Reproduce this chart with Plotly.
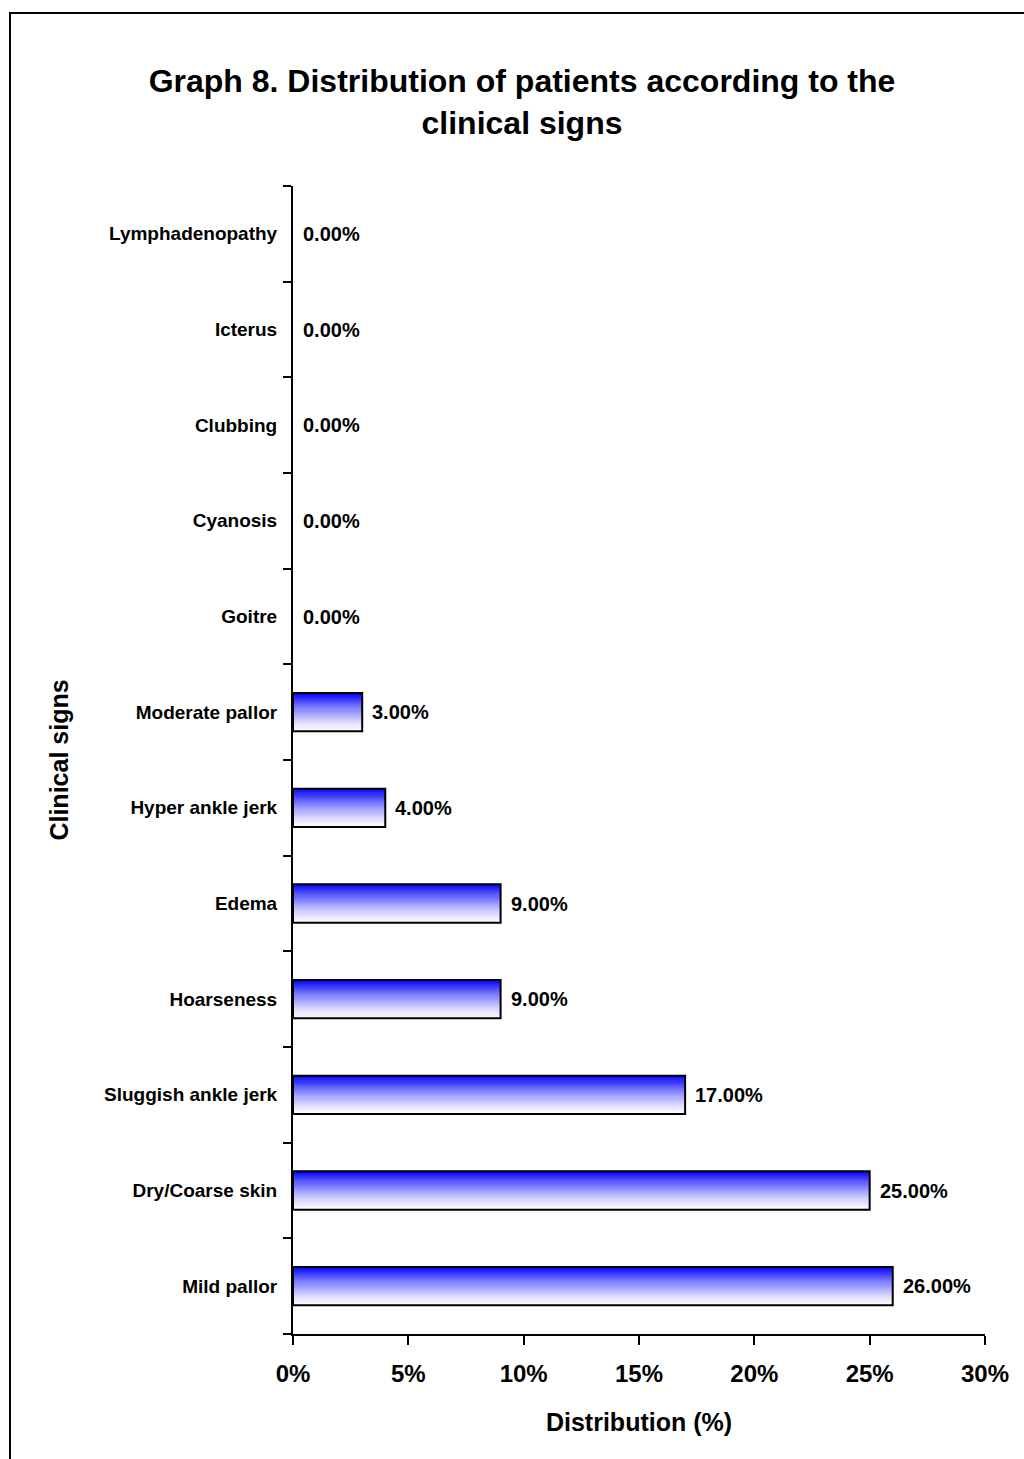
import plotly.graph_objects as go

categories = ["Mild pallor", "Dry/Coarse skin", "Sluggish ankle jerk", "Hoarseness",
              "Edema", "Hyper ankle jerk", "Moderate pallor", "Goitre", "Cyanosis",
              "Clubbing", "Icterus", "Lymphadenopathy"]
values = [26, 25, 17, 9, 9, 4, 3, 0, 0, 0, 0, 0]
x_ticks = [0, 5, 10, 15, 20, 25, 30]
x_tick_labels = ["0%", "5%", "10%", "15%", "20%", "25%", "30%"]

FONT = "Liberation Sans, Arial, sans-serif"
fig = go.Figure()

# gradient bars built from thin slices (near white at bottom -> blue at top)
N = 36
bar_w = 0.4
sw = bar_w / N
for i in range(N):
    t = (i / (N - 1)) ** 1.4
    r = int(round(250 * (1 - t) + 10 * t))
    g = int(round(250 * (1 - t) + 10 * t))
    b = 255
    fig.add_trace(go.Bar(
        x=values, y=categories, orientation="h",
        width=sw * 1.15, offset=-bar_w / 2 + i * sw,
        marker=dict(color=f"rgb({r},{g},{b})", line=dict(width=0)),
        hoverinfo="skip", showlegend=False))

# outline
fig.add_trace(go.Bar(
    x=values, y=categories, orientation="h", width=bar_w, offset=-bar_w / 2,
    marker=dict(color="rgba(0,0,0,0)",
                line=dict(color="black", width=[2 if v > 0 else 0 for v in values])),
    showlegend=False))

for c, v in zip(categories, values):
    fig.add_annotation(x=v, y=c, xref="x", yref="y", text=f"{v:.2f}%",
                       showarrow=False, xanchor="left", xshift=8,
                       font=dict(family=FONT, size=20, color="black", weight="bold"))

# outer border
fig.add_shape(type="rect", xref="paper", yref="paper",
              x0=(10 - 293) / 692, x1=(1040 - 293) / 692,
              y0=(1334 - 1480) / 1148, y1=(1334 - 13) / 1148,
              line=dict(color="black", width=2), fillcolor="rgba(0,0,0,0)", layer="above")

fig.update_layout(
    width=1024, height=1459,
    margin=dict(l=293, r=39, t=186, b=125),
    paper_bgcolor="white", plot_bgcolor="white",
    barmode="overlay",
    font=dict(family=FONT, color="black"),
    title=dict(text="Graph 8. Distribution of patients according to the<br>clinical signs",
               x=522 / 1024, xanchor="center", y=1 - 92 / 1459, yanchor="middle",
               font=dict(family=FONT, size=32, color="black", weight="bold")),
    xaxis=dict(range=[0, 30], tickvals=x_ticks, ticktext=x_tick_labels,
               showgrid=False, zeroline=False, showline=True, linecolor="black", linewidth=2,
               ticks="outside", ticklen=9, tickwidth=2, tickcolor="black",
               ticklabelstandoff=8,
               tickfont=dict(family=FONT, size=24, color="black", weight="bold"),
               title=dict(text="Distribution (%)", standoff=28,
                          font=dict(family=FONT, size=25, color="black", weight="bold"))),
    yaxis=dict(type="category", categoryorder="array", categoryarray=categories,
               range=[-0.5, 11.5], tickson="boundaries",
               showgrid=False, zeroline=False, showline=True, linecolor="black", linewidth=2,
               ticks="outside", ticklen=8, tickwidth=2, tickcolor="black",
               ticklabelstandoff=10,
               tickfont=dict(family=FONT, size=19, color="black", weight="bold"),
               title=dict(text="Clinical signs", standoff=28,
                          font=dict(family=FONT, size=25, color="black", weight="bold"))),
)

fig.write_html("out.html")
